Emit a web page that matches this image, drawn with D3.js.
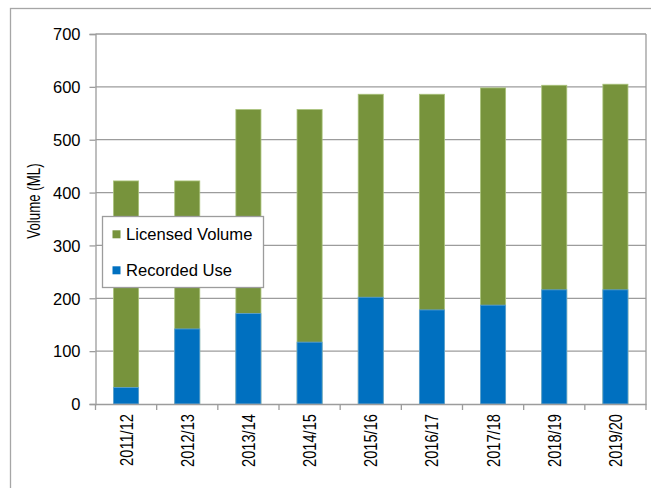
<!DOCTYPE html>
<html>
<head>
<meta charset="utf-8">
<script src="https://cdn.jsdelivr.net/npm/d3@7/dist/d3.min.js"></script>
<style>
  html, body { margin: 0; padding: 0; background: #fff; }
  svg { display: block; font-family: Arial, "Liberation Sans", sans-serif; }
</style>
</head>
<body>
<svg id="chart" width="651" height="488"></svg>
<script>
const categories = ["2011/12", "2012/13", "2013/14", "2014/15", "2015/16", "2016/17", "2017/18", "2018/19", "2019/20"];
const licensedVolume = [422, 422, 557, 557, 586, 586, 598, 603, 605];
const recordedUse = [31, 142, 171, 117, 202, 178, 187, 216, 216];
const yTicks = [0, 100, 200, 300, 400, 500, 600, 700];
const seriesNames = ["Licensed Volume", "Recorded Use"];
const seriesColors = ["#77933C", "#0070C0"];
const seriesEdges = ["#a9c27a", "#5fa3d8"];

(function () {
const svg = d3.select("#chart");
const pLeft = 95.5, pRight = 646, pTop = 34, pBottom = 404;
const gridColor = "#9c9c9c";
const fam = "Arial, 'Liberation Sans', sans-serif";

// outer chart border (extends beyond the visible window at right/bottom)
svg.append("rect")
  .attr("x", 10.5).attr("y", 8.5).attr("width", 700).attr("height", 600)
  .attr("fill", "none").attr("stroke", "#a6a6a6").attr("stroke-width", 1.3);

const x = d3.scaleBand().domain(categories).range([pLeft, pRight])
  .paddingInner(0.59).paddingOuter(0.295);
const y = d3.scaleLinear().domain([0, 700]).range([pBottom, pTop]);

// gridlines
svg.append("g").selectAll("line").data(yTicks.filter(d => d > 0)).join("line")
  .attr("x1", pLeft).attr("x2", pRight)
  .attr("y1", d => y(d)).attr("y2", d => y(d))
  .attr("stroke", gridColor).attr("stroke-width", 1.3);

// plot right border
svg.append("line").attr("x1", pRight).attr("x2", pRight).attr("y1", pTop).attr("y2", pBottom)
  .attr("stroke", gridColor).attr("stroke-width", 1.3);

// bars
const rows = categories.map((c, i) => ({ c, lic: licensedVolume[i], rec: recordedUse[i] }));
svg.append("g").selectAll("rect").data(rows).join("rect")
  .attr("x", d => x(d.c)).attr("width", x.bandwidth())
  .attr("y", d => y(d.lic)).attr("height", d => y(0) - y(d.lic))
  .attr("fill", seriesColors[0]).attr("stroke", seriesEdges[0]).attr("stroke-width", 0.8);
svg.append("g").selectAll("rect").data(rows).join("rect")
  .attr("x", d => x(d.c)).attr("width", x.bandwidth())
  .attr("y", d => y(d.rec)).attr("height", d => y(0) - y(d.rec))
  .attr("fill", seriesColors[1]).attr("stroke", seriesEdges[1]).attr("stroke-width", 0.8);

// y axis
const yAxis = svg.append("g").attr("transform", `translate(${pLeft},0)`)
  .call(d3.axisLeft(y).tickValues(yTicks).tickSize(6).tickPadding(9));
yAxis.attr("font-size", null).attr("font-family", null);
yAxis.select(".domain").attr("stroke", gridColor).attr("stroke-width", 1.3);
yAxis.selectAll(".tick line").attr("stroke", gridColor).attr("stroke-width", 1.3);
yAxis.selectAll(".tick text")
  .style("font-size", "16.5px").style("font-family", fam).attr("fill", "#000")
  .attr("dy", "0.35em");

// x axis
const xAxis = svg.append("g").attr("transform", `translate(0,${pBottom})`)
  .call(d3.axisBottom(x).tickSize(0).tickPadding(0));
xAxis.attr("font-size", null).attr("font-family", null);
xAxis.select(".domain").attr("stroke", gridColor).attr("stroke-width", 1.3);
xAxis.selectAll(".tick text")
  .style("font-size", "18px").style("font-family", fam).attr("fill", "#000")
  .attr("text-anchor", "end")
  .attr("transform", "rotate(-90) scale(0.815,1)")
  .attr("x", -12.3).attr("y", 0).attr("dy", "0.36em");
// category boundary ticks
const bounds = categories.map(c => x(c) - x.step() * 0.295).concat([pRight]);
svg.append("g").selectAll("line").data(bounds).join("line")
  .attr("x1", d => d).attr("x2", d => d).attr("y1", pBottom).attr("y2", pBottom + 6)
  .attr("stroke", gridColor).attr("stroke-width", 1.3);

// y title
svg.append("text")
  .attr("transform", "translate(40,201) rotate(-90) scale(0.76,1)")
  .attr("text-anchor", "middle")
  .style("font-size", "17.5px").style("font-family", fam).attr("fill", "#000")
  .text("Volume (ML)");

// legend
const lg = svg.append("g");
lg.append("rect").attr("x", 102.5).attr("y", 216.5).attr("width", 161).attr("height", 71)
  .attr("fill", "#fff").attr("stroke", "#9c9c9c").attr("stroke-width", 1.3);
const ly = [239.5, 275.5];
seriesNames.forEach((n, i) => {
  lg.append("rect").attr("x", 112.5).attr("y", ly[i] - 9.2).attr("width", 8).attr("height", 8)
    .attr("fill", seriesColors[i]);
  lg.append("text").attr("x", 126).attr("y", ly[i])
    .style("font-size", "16.6px").style("font-family", fam).attr("fill", "#000").text(n);
});
})();
</script>
</body>
</html>
